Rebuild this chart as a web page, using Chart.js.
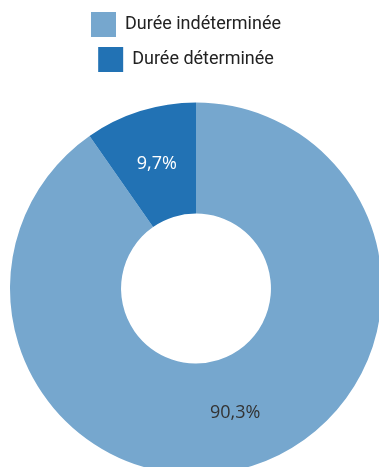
<!DOCTYPE html>
<html>
<head>
<meta charset="utf-8">
<script src="https://cdn.jsdelivr.net/npm/chart.js@4"></script>
<style>
  html, body { margin: 0; padding: 0; background: #fff; overflow: hidden; }
  #wrap { position: absolute; left: 0; top: 0; width: 392px; height: 495px; }
</style>
</head>
<body>
<div id="wrap"><canvas id="chart"></canvas></div>
<script>
// Contract types and their share
const labels = ["Durée indéterminée", "Durée déterminée"];
const shares = [90.3, 9.7];
const sliceColors = ["#76a7ce", "#2272b4"];
const labelColors = ["#333333", "#ffffff"];

// Draw the percentage in the middle of each slice
const sliceLabels = {
  id: "sliceLabels",
  afterDatasetsDraw(chart) {
    const ctx = chart.ctx;
    const meta = chart.getDatasetMeta(0);
    ctx.save();
    ctx.font = "18px 'Open Sans'";
    ctx.textAlign = "center";
    ctx.textBaseline = "middle";
    meta.data.forEach((arc, i) => {
      const pos = arc.tooltipPosition();
      ctx.fillStyle = labelColors[i];
      ctx.fillText(shares[i].toFixed(1).replace(".", ",") + "%", pos.x, pos.y);
    });
    ctx.restore();
  },
};

// Legend sits a bit left of the doughnut centre
const shiftLegend = {
  id: "shiftLegend",
  afterLayout(chart) {
    chart.legend.left -= 10;
    chart.legend.right -= 10;
  },
};

var ctx = document.getElementById("chart").getContext("2d");
var chart = new Chart(ctx, {
  type: "doughnut",
  data: {
    labels: labels,
    datasets: [
      {
        data: shares,
        backgroundColor: sliceColors,
        borderWidth: 0,
      },
    ],
  },
  options: {
    responsive: true,
    maintainAspectRatio: false,
    animation: false,
    radius: 186,
    cutout: "40.3%",
    // side padding makes the legend wrap onto two lines
    layout: { padding: { top: 2, left: 40, right: 40 } },
    plugins: {
      legend: {
        position: "top",
        labels: {
          boxWidth: 25,
          boxHeight: 25,
          padding: 10,
          color: "#222222",
          font: { family: "Roboto", size: 18 },
        },
      },
      tooltip: { enabled: false },
    },
  },
  plugins: [sliceLabels, shiftLegend],
});
</script>
</body>
</html>
